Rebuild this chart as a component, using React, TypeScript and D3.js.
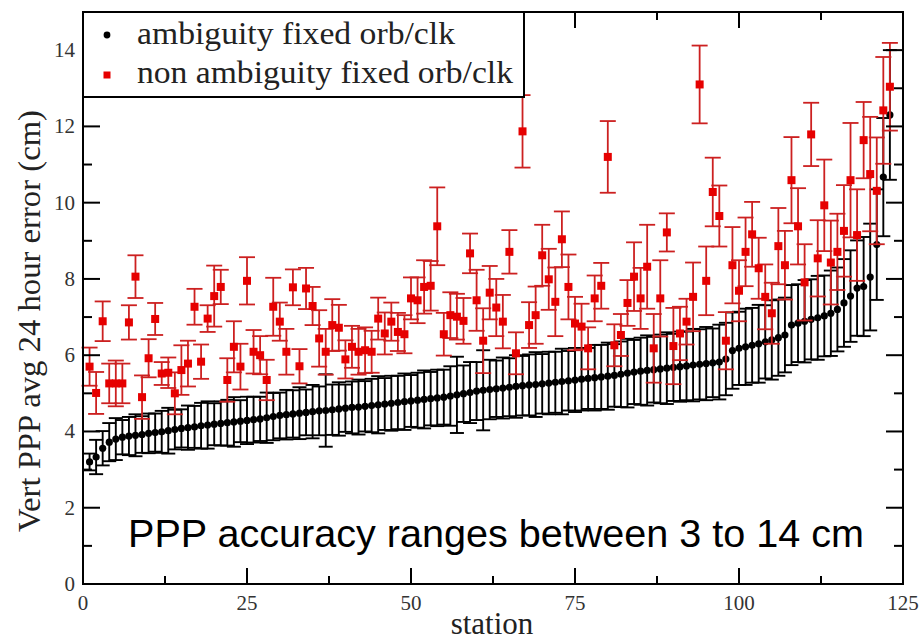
import React from "react";
import * as d3 from "d3";

const stations: number[] = d3.range(1, 124);

const fixedVals: number[] = [
  3.20, 3.33, 3.56, 3.72, 3.80, 3.85, 3.88, 3.90, 3.92, 3.95,
  3.97, 3.99, 4.02, 4.05, 4.08, 4.10, 4.12, 4.15, 4.17, 4.19,
  4.21, 4.23, 4.25, 4.27, 4.29, 4.31, 4.33, 4.36, 4.39, 4.42,
  4.44, 4.46, 4.48, 4.50, 4.52, 4.54, 4.55, 4.57, 4.59, 4.61,
  4.63, 4.64, 4.66, 4.68, 4.70, 4.72, 4.74, 4.76, 4.78, 4.80,
  4.82, 4.84, 4.86, 4.88, 4.90, 4.93, 4.96, 4.99, 5.02, 5.06,
  5.08, 5.10, 5.12, 5.14, 5.16, 5.18, 5.20, 5.22, 5.23, 5.25,
  5.27, 5.29, 5.31, 5.33, 5.35, 5.37, 5.39, 5.41, 5.43, 5.45,
  5.47, 5.50, 5.53, 5.56, 5.58, 5.60, 5.62, 5.64, 5.66, 5.68,
  5.70, 5.72, 5.74, 5.76, 5.78, 5.80, 5.82, 5.90, 6.12, 6.18,
  6.22, 6.26, 6.30, 6.35, 6.40, 6.46, 6.53, 6.79, 6.84, 6.89,
  6.94, 6.98, 7.03, 7.10, 7.20, 7.37, 7.55, 7.76, 7.80, 8.05,
  8.90, 10.67, 12.30,
];

const fixedErr: number[] = [
  0.22, 0.45, 0.45, 0.50, 0.55, 0.45, 0.50, 0.55, 0.48, 0.52,
  0.50, 0.55, 0.60, 0.52, 0.50, 0.58, 0.55, 0.60, 0.62, 0.55,
  0.58, 0.60, 0.65, 0.55, 0.62, 0.60, 0.58, 0.66, 0.62, 0.60,
  0.65, 0.62, 0.68, 0.60, 0.70, 0.64, 0.95, 0.66, 0.70, 0.62,
  0.68, 0.72, 0.66, 0.70, 0.75, 0.68, 0.72, 0.70, 0.74, 0.68,
  0.72, 0.76, 0.70, 0.74, 0.72, 0.78, 1.00, 0.74, 0.80, 0.76,
  1.05, 0.78, 0.74, 0.80, 0.76, 0.82, 0.78, 0.80, 0.85, 0.78,
  0.82, 0.80, 0.86, 0.78, 0.84, 0.82, 0.80, 0.86, 0.84, 0.88,
  0.82, 0.86, 0.90, 0.84, 0.88, 0.92, 0.86, 0.90, 0.94, 0.88,
  0.92, 0.90, 0.95, 0.92, 0.96, 0.90, 0.98, 0.95, 1.00, 0.96,
  1.00, 0.98, 1.02, 0.96, 1.04, 1.00, 0.98, 1.05, 1.02, 1.08,
  1.05, 1.10, 1.06, 1.12, 1.10, 1.15, 1.20, 1.25, 1.30, 1.40,
  1.45, 1.55, 1.70,
];

const nonFixedVals: number[] = [
  5.70, 5.01, 6.89, 5.26, 5.26, 5.26, 6.86, 8.06, 4.90, 5.92,
  6.95, 5.52, 5.54, 5.00, 5.61, 5.78, 7.27, 5.83, 6.96, 7.55,
  7.79, 5.35, 6.22, 5.70, 7.95, 6.09, 6.00, 5.35, 7.27, 6.88,
  6.09, 7.78, 5.71, 7.75, 7.29, 6.44, 6.09, 6.79, 6.72, 5.89,
  6.22, 6.09, 6.13, 6.09, 6.96, 6.57, 6.88, 6.61, 6.55, 7.49,
  7.44, 7.79, 7.82, 9.38, 6.55, 7.05, 7.01, 6.90, 8.67, 7.44,
  6.38, 7.64, 7.25, 6.88, 8.71, 6.05, 11.87, 6.79, 7.05, 8.62,
  7.99, 7.40, 9.04, 7.79, 6.83, 6.75, 6.18, 7.49, 7.82, 11.20,
  6.26, 6.53, 7.37, 8.06, 7.49, 8.32, 6.18, 7.49, 9.22, 6.24,
  6.57, 6.88, 7.53, 13.10, 7.95, 10.28, 9.65, 6.38, 8.36, 7.69,
  8.71, 9.17, 8.28, 7.53, 7.10, 8.86, 8.36, 10.59, 9.38, 7.91,
  11.79, 8.54, 9.93, 8.43, 8.71, 9.26, 10.59, 9.15, 11.64, 10.75,
  10.31, 12.42, 13.04,
];

const nonFixedErr: number[] = [
  0.50, 0.55, 0.52, 0.52, 0.60, 0.52, 0.45, 0.56, 0.57, 0.50,
  0.42, 0.30, 0.40, 0.55, 0.65, 0.60, 0.47, 0.45, 0.35, 0.80,
  0.45, 0.57, 0.67, 0.60, 0.62, 0.57, 0.50, 0.53, 0.76, 0.50,
  0.60, 0.47, 0.45, 0.54, 0.50, 0.74, 0.60, 0.68, 0.60, 0.50,
  0.55, 0.60, 0.60, 0.55, 0.55, 0.55, 0.50, 0.50, 0.50, 0.55,
  0.60, 0.70, 0.65, 1.02, 0.56, 0.60, 0.60, 0.60, 0.52, 0.80,
  0.85, 0.70, 0.75, 0.70, 0.57, 0.55, 0.95, 0.60, 0.75, 0.80,
  0.80, 0.90, 0.73, 0.85, 0.70, 0.60, 0.55, 0.60, 0.60, 0.94,
  0.55, 0.55, 0.60, 0.90, 0.80, 1.10, 0.90, 1.00, 0.50, 1.00,
  0.70, 0.60, 0.90, 1.02, 0.90, 0.90, 0.80, 0.75, 1.00, 0.80,
  0.90, 0.85, 0.80, 0.85, 0.80, 1.00, 0.90, 1.13, 1.00, 1.00,
  0.83, 1.00, 1.20, 1.10, 1.00, 1.20, 1.50, 1.20, 1.00, 1.50,
  1.40, 1.40, 1.15,
];

const xTicks: number[] = [0, 25, 50, 75, 100, 125];
const yTicks: number[] = [0, 2, 4, 6, 8, 10, 12, 14];
const legendLabels: string[] = ["ambiguity fixed orb/clk", "non ambiguity fixed orb/clk"];

const W = 923;
const H = 642;
const L = 83, R = 903, T = 12, B = 584;

export default function App() {
  const x = d3.scaleLinear().domain([0, 125]).range([L, R]);
  const y = d3.scaleLinear().domain([0, 15]).range([B, T]);
  const xMinor = d3.range(0, 125.01, 12.5);
  const yMinor = d3.range(0, 15.01, 1);
  const cap = 7;
  const serif = "'Liberation Serif', 'DejaVu Serif', serif";
  const red = "#e60000";
  const redLine = "#cc2020";

  return (
    <svg width={W} height={H} style={{ position: "absolute", left: 0, top: 0, background: "#fff" }}>
      <rect x={0} y={0} width={W} height={H} fill="#fff" />
      {/* black series */}
      <g stroke="#000" strokeWidth={1.9}>
        {stations.map((s, i) => {
          const cx = x(s);
          const lo = y(fixedVals[i] - fixedErr[i]);
          const hi = y(fixedVals[i] + fixedErr[i]);
          return (
            <g key={"b" + i}>
              <line x1={cx} x2={cx} y1={lo} y2={hi} />
              <line x1={cx - cap} x2={cx + cap} y1={lo} y2={lo} />
              <line x1={cx - cap} x2={cx + cap} y1={hi} y2={hi} />
            </g>
          );
        })}
      </g>
      <g fill="#000">
        {stations.map((s, i) => (
          <circle key={"bc" + i} cx={x(s)} cy={y(fixedVals[i])} r={3.6} />
        ))}
      </g>
      {/* red series */}
      <g stroke={redLine} strokeWidth={1.8}>
        {stations.map((s, i) => {
          const cx = x(s);
          const lo = y(nonFixedVals[i] - nonFixedErr[i]);
          const hi = y(nonFixedVals[i] + nonFixedErr[i]);
          return (
            <g key={"r" + i}>
              <line x1={cx} x2={cx} y1={lo} y2={hi} />
              <line x1={cx - cap - 1} x2={cx + cap + 1} y1={lo} y2={lo} />
              <line x1={cx - cap - 1} x2={cx + cap + 1} y1={hi} y2={hi} />
            </g>
          );
        })}
      </g>
      <g fill={red}>
        {stations.map((s, i) => (
          <rect key={"rs" + i} x={x(s) - 4} y={y(nonFixedVals[i]) - 4} width={8} height={8} />
        ))}
      </g>
      {/* ticks */}
      <g stroke="#000" strokeWidth={2}>
        {xMinor.map((v, i) => {
          const len = v % 25 === 0 ? 16 : 8;
          return (
            <g key={"xt" + i}>
              <line x1={x(v)} x2={x(v)} y1={B} y2={B - len} />
              <line x1={x(v)} x2={x(v)} y1={T} y2={T + len} />
            </g>
          );
        })}
        {yMinor.map((v, i) => {
          const len = v % 2 === 0 ? 17 : 9;
          return (
            <g key={"yt" + i}>
              <line x1={L} x2={L + len} y1={y(v)} y2={y(v)} />
              <line x1={R} x2={R - len} y1={y(v)} y2={y(v)} />
            </g>
          );
        })}
      </g>
      <rect x={L} y={T} width={R - L} height={B - T} fill="none" stroke="#000" strokeWidth={2} />
      {/* tick labels */}
      <g fontFamily={serif} fontSize={21} fill="#333">
        {xTicks.map((v) => (
          <text key={"xl" + v} x={x(v)} y={610} textAnchor="middle">{v}</text>
        ))}
        {yTicks.map((v) => (
          <text key={"yl" + v} x={75} y={y(v) + 7} textAnchor="end">{v}</text>
        ))}
      </g>
      {/* axis titles */}
      <text x={492} y={634} textAnchor="middle" fontFamily={serif} fontSize={31} fill="#222">station</text>
      <text transform="translate(40,321) rotate(-90)" textAnchor="middle" fontFamily={serif} fontSize={32}
        fill="#222" textLength={422} lengthAdjust="spacingAndGlyphs">Vert PPP avg 24 hour error (cm)</text>
      {/* legend */}
      <rect x={L} y={T} width={524 - L} height={97 - T} fill="#fff" stroke="#000" strokeWidth={2} />
      <circle cx={107} cy={35} r={3.4} fill="#000" />
      <rect x={103.5} y={71.5} width={7} height={7} fill={red} />
      <text x={137} y={44} fontFamily={serif} fontSize={31} fill="#222" textLength={318} lengthAdjust="spacingAndGlyphs">{legendLabels[0]}</text>
      <text x={137} y={83} fontFamily={serif} fontSize={31} fill="#222" textLength={376} lengthAdjust="spacingAndGlyphs">{legendLabels[1]}</text>
      {/* annotation */}
      <text x={128} y={547} fontFamily="'Liberation Sans', Arial, sans-serif" fontSize={39.5} fill="#000"
        textLength={736} lengthAdjust="spacingAndGlyphs">PPP accuracy ranges between 3 to 14 cm</text>
    </svg>
  );
}
